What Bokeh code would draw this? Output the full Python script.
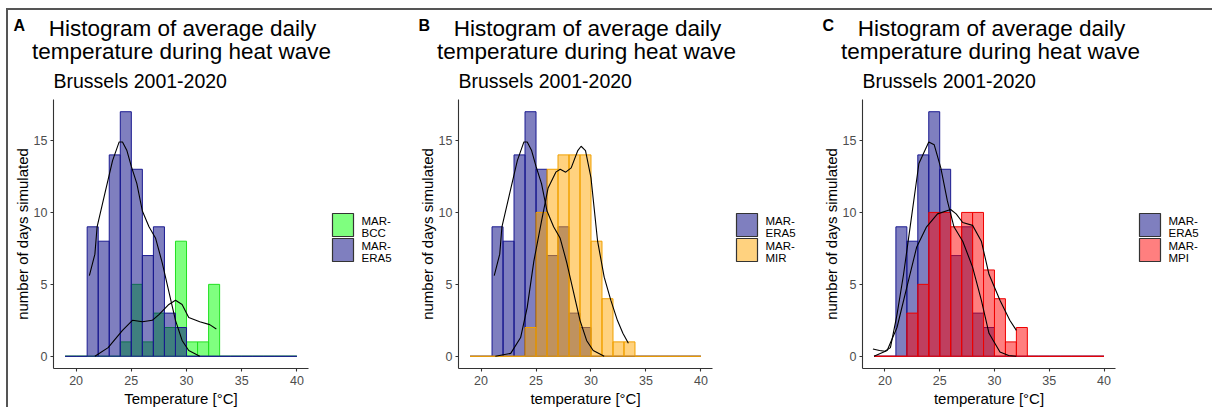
from bokeh.plotting import figure
from bokeh.models import Range1d, FixedTicker, Spacer
from bokeh.layouts import row, column
from bokeh.core.properties import value
from bokeh.embed import file_html
from bokeh.resources import INLINE

FONT = "Liberation Sans"

# ---------------- data ----------------
bin_edges = list(range(19, 41))  # 1 degC bins 19..40
x_ticks = [20, 25, 30, 35, 40]
y_ticks = [0, 5, 10, 15]

era5_counts = [0, 0, 9, 8, 14, 17, 13, 7, 9, 3, 2, 0, 0, 0, 0, 0, 0, 0, 0, 0, 0]
bcc_counts = [0, 0, 0, 0, 0, 1, 5, 1, 3, 2, 8, 1, 1, 5, 0, 0, 0, 0, 0, 0, 0]
mir_counts = [0, 0, 0, 0, 0, 2, 10, 13, 14, 14, 14, 8, 4, 1, 1, 0, 0, 0, 0, 0, 0]
mpi_counts = [0, 0, 0, 3, 5, 10, 10, 9, 10, 10, 6, 4, 1, 2, 0, 0, 0, 0, 0, 0, 0]

era5_dens_x = [21.2, 21.7, 21.9, 22.6, 23.3, 23.9, 24.2, 24.6, 25.0, 25.5, 26.0, 26.6, 27.2, 27.8, 28.4, 29.0, 29.6, 30.2, 31.2]
era5_dens_y = [5.6, 7.1, 9.0, 11.3, 13.6, 14.9, 14.9, 14.3, 13.2, 12.0, 10.1, 9.0, 8.2, 6.5, 4.5, 2.5, 1.1, 0.4, 0.0]

era5c_dens_x = [18.9, 19.5, 20.0, 20.5, 21.1, 21.7, 22.3, 23.1, 24.0, 24.5, 25.1, 25.7, 26.3, 27.1, 28.0, 28.8, 29.5, 30.5, 31.3, 32.0]
era5c_dens_y = [0.5, 0.4, 0.35, 0.6, 2.9, 5.7, 9.0, 13.4, 14.9, 14.7, 13.1, 10.8, 9.0, 8.0, 6.2, 3.9, 1.6, 0.3, 0.05, 0.0]

bcc_dens_x = [21.7, 22.9, 24.2, 25.1, 26.0, 26.9, 27.5, 28.4, 29.0, 29.6, 30.2, 31.2, 32.1, 32.7]
bcc_dens_y = [0.0, 0.6, 1.8, 2.5, 2.4, 2.5, 2.9, 3.6, 3.9, 3.6, 2.7, 2.4, 2.2, 1.9]

mir_dens_x = [21.3, 22.7, 23.6, 24.2, 24.8, 25.5, 26.1, 26.8, 27.2, 27.7, 28.2, 28.8, 29.1, 29.5, 30.0, 30.6, 31.2, 31.8, 32.4, 32.9, 33.4]
mir_dens_y = [0.0, 0.2, 1.3, 3.4, 6.6, 9.4, 11.7, 12.8, 13.0, 12.8, 13.1, 14.3, 14.6, 14.3, 12.4, 8.0, 5.5, 3.9, 2.5, 1.6, 0.9]

mpi_dens_x = [19.0, 20.2, 21.1, 22.0, 22.9, 23.8, 24.8, 26.0, 26.5, 27.1, 28.0, 28.8, 29.5, 30.5, 31.4, 32.0]
mpi_dens_y = [0.0, 0.4, 2.0, 4.8, 7.6, 9.0, 9.9, 10.2, 9.9, 9.3, 9.1, 8.0, 5.7, 3.9, 2.5, 1.8]

panel_letters = ["A", "B", "C"]
title_line1 = "Histogram of average daily"
title_line2 = "temperature during heat wave"
subtitle = "Brussels 2001-2020"
y_label = "number of days simulated"
x_labels = ["Temperature [°C]", "temperature [°C]", "temperature [°C]"]

# ---------------- styles ----------------
STYLE = {
    "ERA5": dict(fill="#000080", line="#1a1a90", label=["MAR-", "ERA5"]),
    "BCC": dict(fill="#00ff00", line="#22e022", label=["MAR-", "BCC"]),
    "MIR": dict(fill="#ffa500", line="#f0a000", label=["MAR-", "MIR"]),
    "MPI": dict(fill="#ff0000", line="#ee0000", label=["MAR-", "MPI"]),
}
COUNTS = {"ERA5": era5_counts, "BCC": bcc_counts, "MIR": mir_counts, "MPI": mpi_counts}

XD = (17.95, 41.05)   # axis (panel) data extent, x
YD = (-0.85, 17.85)   # axis (panel) data extent, y
H = 397
PANEL_TOP = 89        # canvas y of panel top
PANEL_BOT = 358       # canvas y of panel bottom


def make_panel(idx, draw_order, legend_order, dens, width, mbl, fw):
    pxu = fw / (XD[1] - XD[0])
    pyu = (PANEL_BOT - PANEL_TOP) / (YD[1] - YD[0])
    x_lo = XD[0] - mbl / pxu
    x_hi = x_lo + width / pxu
    y_hi = YD[1] + PANEL_TOP / pyu
    y_lo = y_hi - H / pyu

    def X(px):
        return x_lo + px / pxu

    def Y(py):
        return y_hi - py / pyu

    p = figure(width=width, height=H, output_backend="svg", toolbar_location=None, title=None,
               x_range=Range1d(x_lo, x_hi), y_range=Range1d(y_lo, y_hi),
               min_border_left=0, min_border_right=0, min_border_top=0, min_border_bottom=0)
    p.xgrid.visible = False
    p.ygrid.visible = False
    p.outline_line_color = None
    p.background_fill_color = "white"
    p.border_fill_color = "white"

    p.xaxis.fixed_location = YD[0]
    p.yaxis.fixed_location = XD[0]
    p.xaxis.bounds = XD
    p.yaxis.bounds = YD
    for ax, ticks in ((p.xaxis, x_ticks), (p.yaxis, y_ticks)):
        ax.ticker = FixedTicker(ticks=ticks)
        ax.axis_line_color = "#333333"
        ax.axis_line_width = 1.1
        ax.major_tick_line_color = "#333333"
        ax.major_tick_line_width = 1.1
        ax.major_tick_out = 3
        ax.major_tick_in = 0
        ax.minor_tick_out = 0
        ax.minor_tick_in = 0
        ax.major_label_text_color = "#4d4d4d"
        ax.major_label_text_font = FONT
        ax.major_label_text_font_size = "12.5px"
        ax.axis_label_text_font = FONT
        ax.axis_label_text_font_size = "15px"
        ax.axis_label_text_font_style = "normal"
        ax.axis_label_text_color = "black"
    p.xaxis.axis_label = x_labels[idx]
    p.yaxis.axis_label = y_label
    p.xaxis.major_label_standoff = 4
    p.xaxis.axis_label_standoff = 2
    p.yaxis.major_label_standoff = 3
    p.yaxis.axis_label_standoff = 0

    # histograms and density curves
    for key in draw_order:
        st = STYLE[key]
        p.quad(left=bin_edges[:-1], right=bin_edges[1:], top=COUNTS[key], bottom=0,
               fill_color=st["fill"], fill_alpha=0.5, line_color=st["line"], line_width=1)
    for dx, dy in dens:
        p.line(dx, dy, line_color="black", line_width=1.1)

    # header: letter, title, subtitle
    p.text(x=[X(mbl - 40)], y=[Y(15)], text=[panel_letters[idx]], text_font=value(FONT),
           text_font_size="16px", text_font_style="bold", text_align="left",
           text_baseline="alphabetic", text_color="black")
    p.text(x=[X(mbl + 129), X(mbl + 128)], y=[Y(18), Y(41)],
           text=[title_line1, title_line2], text_font=value(FONT),
           text_font_size="22.5px", text_align="center", text_baseline="alphabetic",
           text_color="black")
    p.text(x=[X(mbl)], y=[Y(70)], text=[subtitle], text_font=value(FONT),
           text_font_size="19.5px", text_align="left", text_baseline="alphabetic",
           text_color="black")

    # legend (keys + two-line labels) right of the panel
    key_l = mbl + fw + 24
    for k, key in enumerate(legend_order):
        st = STYLE[key]
        top = 203 + 25 * k
        p.quad(left=[X(key_l)], right=[X(key_l + 21)], top=[Y(top)], bottom=[Y(top + 23)],
               fill_color=st["fill"], fill_alpha=0.5, line_color="#333333", line_width=1.2)
        p.text(x=[X(key_l + 29)] * 2, y=[Y(top + 7), Y(top + 19)], text=st["label"],
               text_font=value(FONT), text_font_size="11.5px", text_align="left",
               text_baseline="middle", text_color="black")
    return p


pA = make_panel(0, ["BCC", "ERA5"], ["BCC", "ERA5"],
                [(era5_dens_x, era5_dens_y), (bcc_dens_x, bcc_dens_y)], 395, 45, 255)
pB = make_panel(1, ["ERA5", "MIR"], ["ERA5", "MIR"],
                [(era5_dens_x, era5_dens_y), (mir_dens_x, mir_dens_y)], 404, 55, 254)
pC = make_panel(2, ["ERA5", "MPI"], ["ERA5", "MPI"],
                [(era5c_dens_x, era5c_dens_y), (mpi_dens_x, mpi_dens_y)], 405, 55, 253)

inner = row(pA, pB, pC, styles={"border-top": "2px solid #555555", "border-left": "2px solid #555555"})
layout = column(Spacer(height=8, width=1212), row(Spacer(width=6, height=399), inner))

open("out.html", "w").write(file_html(layout, INLINE))
